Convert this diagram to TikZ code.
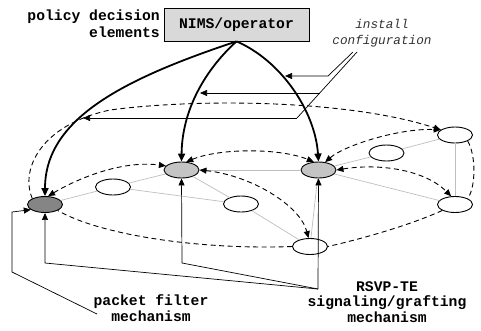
\documentclass[tikz,border=0pt]{standalone}
\usepackage{fontspec}
\setmonofont{Liberation Mono}
\usepackage{tikz}
\usetikzlibrary{shapes.geometric, arrows.meta, positioning}

\begin{document}
\begin{tikzpicture}[x=1pt, y=-1pt,
            router/.style={ellipse, draw, line width=0.9pt, fill=white, minimum width=35pt, minimum height=16pt, inner sep=0pt},
            edge/.style={black!25, line width=0.7pt},
            sig/.style={dash pattern=on 5pt off 3.5pt, line width=0.9pt},
            both/.style={{Triangle[length=7pt,width=6pt]}-{Triangle[length=7pt,width=6pt]}},
            tip/.style={-{Triangle[length=7pt,width=6pt]}},
            cfg/.style={line width=1.8pt, -{Triangle[length=8pt,width=7pt]}},
            lead/.style={line width=0.7pt},
            lbl/.style={font=\fontsize{14.7}{15.5}\selectfont\ttfamily\bfseries, inner sep=0pt}
        ]
        \useasboundingbox (0,0) rectangle (481,330);

        % Labels and operator box
        \node[lbl, draw, line width=0.8pt, fill=black!15, minimum width=145pt, minimum height=33pt] (nims) at (236.5,24.5) {NIMS/operator};
        \node[lbl, anchor=east] (pde) at (160,17) {policy decision};
        \node[lbl, anchor=east] (pdel) at (160,32) {elements};
        \node[font=\fontsize{12.7}{16}\selectfont\ttfamily\itshape, text=black!80, align=center, inner sep=0pt] (inst) at (382,33) {install\\configuration};
        \node[lbl, align=center] (pf) at (151,308) {packet filter\\mechanism};
        \node[lbl, align=center] (rsvp) at (387,302) {RSVP-TE\\signaling/grafting\\mechanism};

        % Nodes (manual layout to match figure)
        \node[router, fill=black!48] (A) at (45,204.5) {};
        \node[router, fill=black!23] (B) at (181.5,170) {};
        \node[router, fill=black!23] (C) at (318.5,170) {};
        \node[router] (D) at (113,187) {};
        \node[router] (E) at (241,204) {};
        \node[router] (F) at (310,246.5) {};
        \node[router] (G) at (386.5,153) {};
        \node[router] (H) at (455,135) {};
        \node[router] (I) at (455,204.5) {};

        % Links
        \draw[edge] (A) -- (D);
        \draw[edge] (D) -- (B);
        \draw[edge] (D) -- (E);
        \draw[edge] (B) -- (E);
        \draw[edge] (B) -- (C);
        \draw[edge] (E) -- (F);
        \draw[edge] (F) -- (C);
        \draw[edge] (C) -- (G);
        \draw[edge] (C) -- (I);
        \draw[edge] (G) -- (H);
        \draw[edge] (H) -- (I);

        % Outer signaling ring
        \draw[sig, tip] (A.north west) .. controls (20,170) and (40,125) .. (110,110)
            .. controls (200,98) and (350,100) .. (H.160);
        \draw[sig] (H.south east) .. controls (476,155) and (476,187) .. (I.north east);
        \draw[sig] (I.south west) .. controls (410,225) and (365,238) .. (F.east);
        \draw[sig] (F.west) .. controls (200,250) and (100,235) .. (A.south east);

        % Inner signaling
        \draw[sig, both] (A.70) .. controls (75,180) and (120,160) .. (B.165);
        \draw[sig, both] (B.60) .. controls (220,148) and (280,148) .. (C.120);
        \draw[sig, both] (C.50) .. controls (345,145) and (400,128) .. (H.160);
        \draw[sig, both] (C.east) .. controls (380,163) and (425,170) .. (I.115);
        \draw[sig, both] (B.east) .. controls (250,175) and (300,205) .. (F.100);

        % Configuration from operator
        \draw[cfg] (nims.south) .. controls (120,80) and (45,120) .. (A.north);
        \draw[cfg] (nims.south) .. controls (205,70) and (182,110) .. (B.north);
        \draw[cfg] (nims.south) .. controls (280,60) and (315,110) .. (C.north);

        % install configuration
        \coordinate (il1) at (353,52);
        \coordinate (il2) at (357,52);
        \coordinate (ic1) at (328,76);
        \coordinate (ic2) at (320,93);
        \coordinate (ic3) at (297,118);
        \coordinate (ia1) at (285,76);
        \coordinate (ia2) at (200,93);
        \coordinate (ia3) at (83,118);
        \draw[lead, tip] (il1) -- (ic1) -- (ia1);
        \draw[lead] (il2) -- (ic3);
        \draw[lead, tip] (ic2) -- (ia2);
        \draw[lead, tip] (ic3) -- (ia3);

        % RSVP-TE
        \coordinate (rs) at (318,289);
        \draw[lead, tip] (rs) -- (45,263) -- (A.south);
        \draw[lead, tip] (rs) -- (182,263) -- (B.south);
        \draw[lead, tip] (rs) -- (C.south);

        % packet filter
        \coordinate (pf1) at (97,314);
        \draw[lead, tip] (pf1) -- (12,272) -- (12,212) -- (A.200);

    \end{tikzpicture}
\end{document}
